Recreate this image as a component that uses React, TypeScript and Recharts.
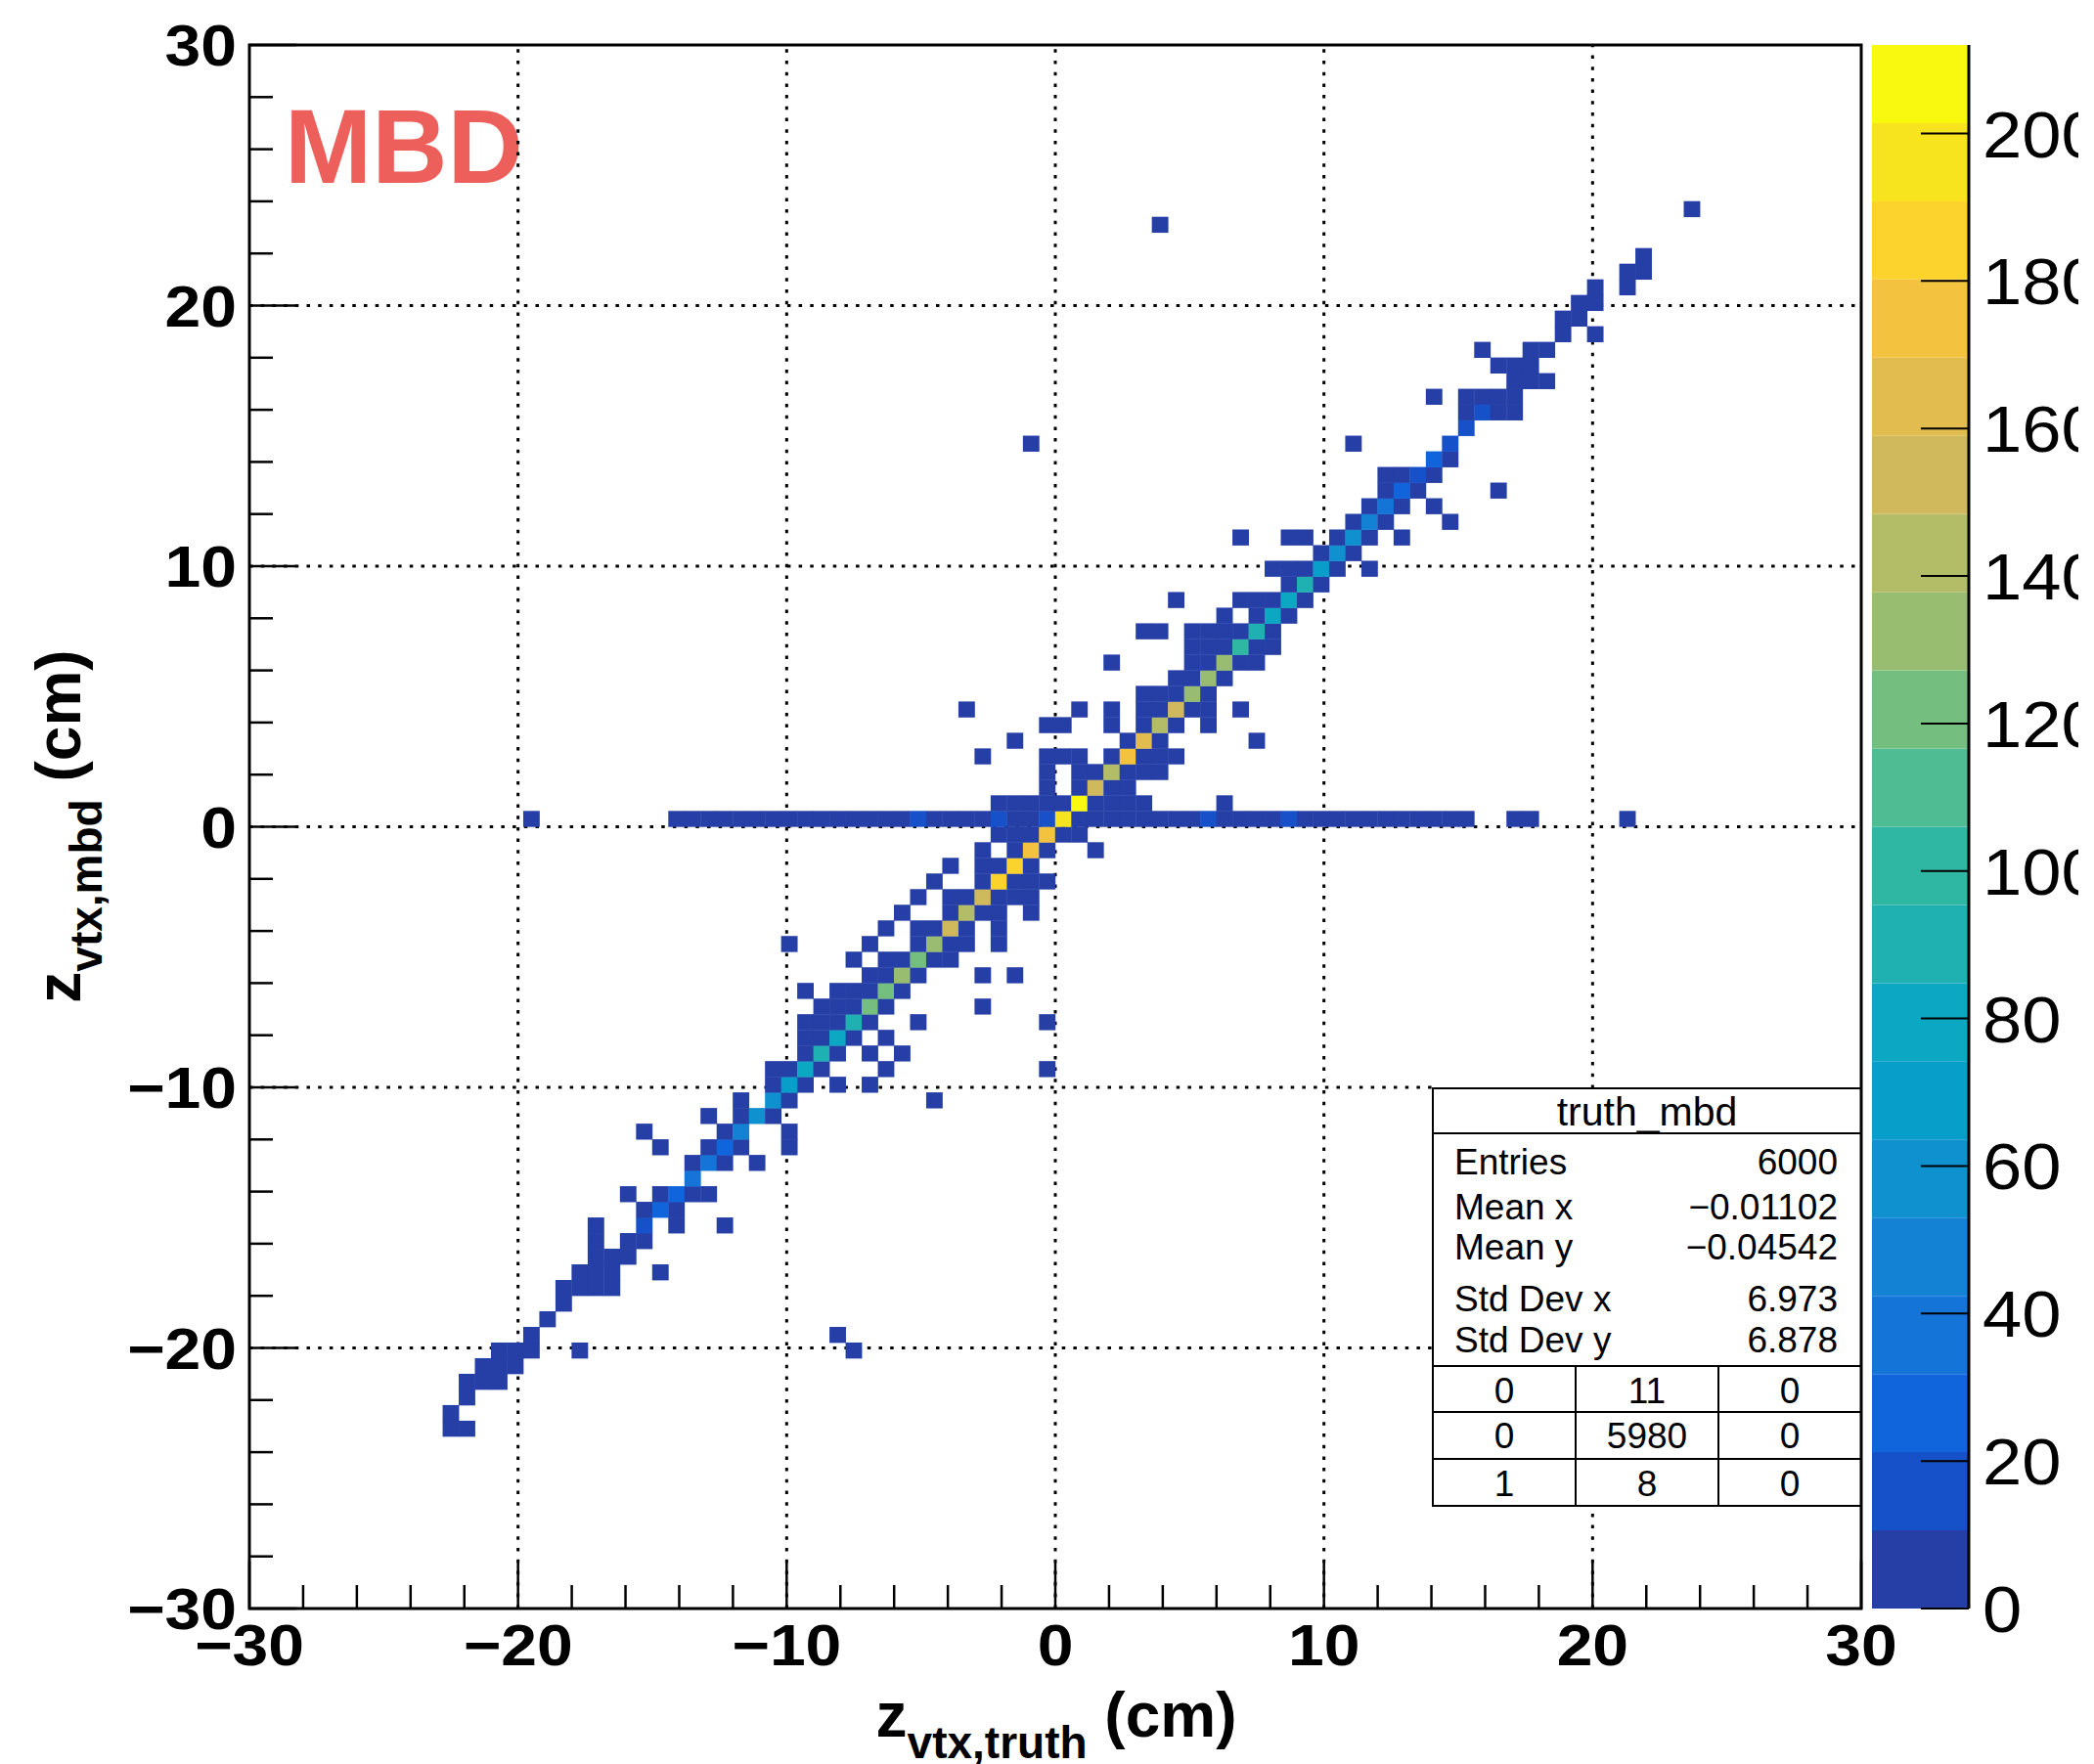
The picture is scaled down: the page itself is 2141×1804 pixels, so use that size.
import React from 'react';
import {
  ScatterChart,
  Scatter,
  XAxis,
  YAxis,
  ReferenceLine,
  ReferenceArea,
  Customized,
  BarChart,
  Bar,
} from 'recharts';

// ---------------- data ----------------
const AXIS_MIN = -30;
const AXIS_MAX = 30;
const BIN_WIDTH = 0.6; // 100 x 100 bins
const Z_MAX = 212;
const N_CONTOURS = 20;

const AXIS_TICKS = [-30, -28, -26, -24, -22, -20, -18, -16, -14, -12, -10, -8, -6, -4, -2, 0, 2, 4, 6, 8, 10, 12, 14, 16, 18, 20, 22, 24, 26, 28, 30];
const GRID_VALUES = [-20, -10, 0, 10, 20];
const Z_TICKS = [0, 20, 40, 60, 80, 100, 120, 140, 160, 180, 200];

// ROOT-like palette, 20 contour colours from low to high
const PALETTE = [
  '#253fa6', '#1651c9', '#1065dc', '#1474d8', '#1482d4',
  '#0f91d0', '#079ec9', '#0ca7c2', '#1fb0b2', '#2fb7a4',
  '#50bc94', '#74be80', '#98bd70', '#b3bc66', '#d0b85c',
  '#e2bc4e', '#f3c33f', '#fcd22c', '#f8e41e', '#f9f80f',
];

// cells: [xBin, yBin, entries]
const cellsLowerTail = [
  [12, 11, 3], [13, 11, 2],
  [12, 12, 3],
  [13, 13, 4],
  [13, 14, 3], [14, 14, 5], [15, 14, 2],
  [14, 15, 4], [15, 15, 6], [16, 15, 3],
  [15, 16, 2], [16, 16, 5], [17, 16, 4], [20, 16, 1], [37, 16, 1],
  [17, 17, 5], [36, 17, 1],
  [18, 18, 6],
  [19, 19, 6],
  [19, 20, 3], [20, 20, 7], [21, 20, 5], [22, 20, 2],
  [20, 21, 2], [21, 21, 6], [22, 21, 4], [25, 21, 1],
  [21, 22, 3], [22, 22, 7], [23, 22, 4],
  [21, 23, 1], [23, 23, 3], [24, 23, 6],
  [21, 24, 1], [24, 24, 16], [26, 24, 2], [29, 24, 1],
  [24, 25, 4], [25, 25, 28], [26, 25, 3],
  [23, 26, 1], [25, 26, 3], [26, 26, 30], [27, 26, 5], [28, 26, 2],
  [27, 27, 38],
  [27, 28, 6], [28, 28, 40], [29, 28, 4], [31, 28, 1],
  [25, 29, 1], [28, 29, 3], [29, 29, 27], [30, 29, 8], [33, 29, 1],
  [24, 30, 1], [29, 30, 4], [30, 30, 48], [33, 30, 1],
  [28, 31, 1], [30, 31, 3], [31, 31, 58], [32, 31, 7],
  [30, 32, 2], [32, 32, 60], [33, 32, 6], [42, 32, 1],
];

const cellsLowerCore = [
  [32, 33, 6], [33, 33, 68], [34, 33, 8], [36, 33, 1], [38, 33, 1],
  [32, 34, 2], [33, 34, 5], [34, 34, 78], [35, 34, 7], [39, 34, 1], [49, 34, 1],
  [34, 35, 4], [35, 35, 88], [36, 35, 9], [38, 35, 2], [40, 35, 1],
  [34, 36, 3], [35, 36, 6], [36, 36, 80], [37, 36, 8], [39, 36, 2],
  [34, 37, 2], [35, 37, 4], [36, 37, 5], [37, 37, 90], [38, 37, 9], [41, 37, 1], [49, 37, 1],
  [35, 38, 2], [36, 38, 4], [37, 38, 7], [38, 38, 118], [39, 38, 9], [45, 38, 1],
  [34, 39, 1], [36, 39, 2], [37, 39, 5], [38, 39, 8], [39, 39, 120], [40, 39, 8],
  [38, 40, 4], [39, 40, 7], [40, 40, 130], [41, 40, 9], [45, 40, 1], [47, 40, 1],
  [37, 41, 1], [39, 41, 3], [40, 41, 6], [41, 41, 121], [42, 41, 8], [43, 41, 3],
  [33, 42, 1], [38, 42, 1], [41, 42, 4], [42, 42, 132], [43, 42, 9], [44, 42, 4], [46, 42, 2],
  [39, 43, 1], [41, 43, 2], [42, 43, 6], [43, 43, 150], [44, 43, 9], [46, 43, 2],
  [40, 44, 1], [43, 44, 5], [44, 44, 142], [45, 44, 8], [46, 44, 4], [48, 44, 2],
  [41, 45, 1], [43, 45, 2], [44, 45, 6], [45, 45, 153], [46, 45, 9], [47, 45, 5], [48, 45, 3],
  [42, 46, 1], [45, 46, 5], [46, 46, 184], [47, 46, 9], [48, 46, 6], [49, 46, 3],
  [43, 47, 1], [45, 47, 2], [46, 47, 6], [47, 47, 186], [48, 47, 9],
  [45, 48, 2], [47, 48, 7], [48, 48, 175], [49, 48, 8], [52, 48, 1],
  [46, 49, 3], [47, 49, 5], [48, 49, 8], [49, 49, 176], [50, 49, 9], [51, 49, 4],
];

const cellsZeroRow = [
  [17, 50, 1], [26, 50, 3], [27, 50, 4], [28, 50, 3], [29, 50, 5], [30, 50, 4],
  [31, 50, 5], [32, 50, 6], [33, 50, 4], [34, 50, 5], [35, 50, 6], [36, 50, 5],
  [37, 50, 7], [38, 50, 6], [39, 50, 8], [40, 50, 7], [41, 50, 15], [42, 50, 8],
  [43, 50, 9], [44, 50, 7], [45, 50, 9], [46, 50, 16], [47, 50, 9], [48, 50, 10],
  [49, 50, 17], [50, 50, 196], [51, 50, 10], [52, 50, 9], [53, 50, 8], [54, 50, 9],
  [55, 50, 7], [56, 50, 8], [57, 50, 6], [58, 50, 8], [59, 50, 14], [60, 50, 7],
  [61, 50, 6], [62, 50, 5], [63, 50, 7], [64, 50, 13], [65, 50, 6], [66, 50, 5],
  [67, 50, 4], [68, 50, 5], [69, 50, 4], [70, 50, 3], [71, 50, 4], [72, 50, 3],
  [73, 50, 2], [74, 50, 3], [75, 50, 2], [78, 50, 1], [79, 50, 1], [85, 50, 1],
];

const cellsUpperCore = [
  [46, 51, 4], [47, 51, 6], [48, 51, 7], [49, 51, 9], [50, 51, 8], [51, 51, 210], [52, 51, 9], [53, 51, 6], [54, 51, 4], [55, 51, 2], [60, 51, 1],
  [49, 52, 3], [51, 52, 5], [52, 52, 153], [53, 52, 8], [54, 52, 5],
  [49, 53, 2], [51, 53, 4], [52, 53, 7], [53, 53, 142], [54, 53, 9], [55, 53, 5], [56, 53, 2],
  [45, 54, 1], [49, 54, 2], [50, 54, 4], [51, 54, 3], [53, 54, 6], [54, 54, 175], [55, 54, 9], [56, 54, 6], [57, 54, 3],
  [47, 55, 1], [54, 55, 7], [55, 55, 165], [56, 55, 8], [62, 55, 1],
  [49, 56, 2], [50, 56, 3], [53, 56, 2], [55, 56, 5], [56, 56, 143], [57, 56, 8], [59, 56, 3],
  [44, 57, 1], [51, 57, 1], [53, 57, 2], [55, 57, 3], [56, 57, 6], [57, 57, 152], [58, 57, 8], [59, 57, 4], [61, 57, 1],
  [55, 58, 3], [56, 58, 4], [57, 58, 7], [58, 58, 132], [59, 58, 8],
  [57, 59, 4], [58, 59, 7], [59, 59, 130], [60, 59, 7],
  [53, 60, 1], [58, 60, 3], [59, 60, 6], [60, 60, 128], [61, 60, 8], [62, 60, 4],
  [58, 61, 2], [59, 61, 4], [60, 61, 7], [61, 61, 100], [62, 61, 9], [63, 61, 5],
  [55, 62, 1], [56, 62, 1], [58, 62, 2], [59, 62, 3], [60, 62, 5], [61, 62, 8], [62, 62, 90], [63, 62, 7],
  [60, 63, 2], [62, 63, 5], [63, 63, 80], [64, 63, 6],
  [57, 64, 1], [61, 64, 2], [62, 64, 4], [63, 64, 7], [64, 64, 78], [65, 64, 6],
  [64, 65, 6], [65, 65, 90], [66, 65, 5],
  [63, 66, 2], [64, 66, 4], [65, 66, 7], [66, 66, 70], [67, 66, 8], [69, 66, 1],
  [66, 67, 6], [67, 67, 60], [68, 67, 7],
  [61, 68, 1], [64, 68, 2], [65, 68, 3], [67, 68, 5], [68, 68, 58], [69, 68, 6], [71, 68, 1],
];

const cellsUpperTail = [
  [68, 69, 4], [69, 69, 45], [70, 69, 6], [74, 69, 1],
  [69, 70, 5], [70, 70, 38], [71, 70, 5], [73, 70, 1],
  [70, 71, 3], [71, 71, 28], [72, 71, 6], [77, 71, 1],
  [70, 72, 2], [71, 72, 4], [72, 72, 18], [73, 72, 5],
  [73, 73, 27], [74, 73, 6],
  [48, 74, 1], [68, 74, 1], [74, 74, 17],
  [75, 75, 17],
  [75, 76, 5], [76, 76, 17], [77, 76, 4], [78, 76, 2],
  [73, 77, 1], [75, 77, 3], [76, 77, 5], [77, 77, 6], [78, 77, 4],
  [78, 78, 4], [79, 78, 6], [80, 78, 3],
  [77, 79, 3], [78, 79, 5], [79, 79, 4],
  [76, 80, 1], [79, 80, 3], [80, 80, 4],
  [81, 81, 5], [83, 81, 1],
  [81, 82, 4], [82, 82, 5],
  [82, 83, 3], [83, 83, 5],
  [83, 84, 4], [85, 84, 2],
  [85, 85, 3], [86, 85, 4],
  [86, 86, 3],
  [56, 88, 1],
  [89, 89, 1],
];

const STAT_TITLE = 'truth_mbd';
const STAT_NAMES = ['Entries', 'Mean x', 'Mean y', 'Std Dev x', 'Std Dev y'];
const STAT_VALUES = ['6000', '\u22120.01102', '\u22120.04542', '6.973', '6.878'];
const OVERFLOW_TABLE = [
  [0, 11, 0],
  [0, 5980, 0],
  [1, 8, 0],
];

// ---------------- layout ----------------
const PAGE_W = 2141;
const PAGE_H = 1804;
const PLOT_L = 255;
const PLOT_T = 46;
const PLOT_R = 1903;
const PLOT_B = 1645;
const PLOT_W = PLOT_R - PLOT_L;
const PLOT_H = PLOT_B - PLOT_T;
const CELL_W = (PLOT_W * BIN_WIDTH) / (AXIS_MAX - AXIS_MIN);
const CELL_H = (PLOT_H * BIN_WIDTH) / (AXIS_MAX - AXIS_MIN);
const CBAR_L = 1914;
const CBAR_R = 2013;
const CANVAS_R = 2125; // the drawing is cut here, as in the reference

// stats box (pixels)
const BOX_L = 1465;
const BOX_R = 1903;
const BOX_T = 1113;
const BOX_B = 1540;
// stats box edges in data units (grid lines stop at the box)
const BOX_X0 = AXIS_MIN + ((BOX_L - PLOT_L) / PLOT_W) * (AXIS_MAX - AXIS_MIN);
const BOX_Y0 = AXIS_MIN + ((PLOT_B - BOX_B) / PLOT_H) * (AXIS_MAX - AXIS_MIN);
const BOX_Y1 = AXIS_MIN + ((PLOT_B - BOX_T) / PLOT_H) * (AXIS_MAX - AXIS_MIN);

const FONT = "'Liberation Sans', Arial, Helvetica, sans-serif";

const colorFor = (n: number) => {
  const k = Math.min(N_CONTOURS - 1, Math.floor(n / (Z_MAX / N_CONTOURS)));
  return PALETTE[k];
};

const toPoints = (cells: number[][]) =>
  cells.map(([i, j, n]) => ({
    x: AXIS_MIN + BIN_WIDTH * (i + 0.5),
    y: AXIS_MIN + BIN_WIDTH * (j + 0.5),
    n,
  }));

const ALL_POINTS = [
  ...toPoints(cellsLowerTail),
  ...toPoints(cellsLowerCore),
  ...toPoints(cellsZeroRow),
  ...toPoints(cellsUpperCore),
  ...toPoints(cellsUpperTail),
];

const colorBarRow: Record<string, number | string> = { name: 'z' };
PALETTE.forEach((_, k) => {
  colorBarRow[`b${k}`] = Z_MAX / N_CONTOURS;
});

const fmt = (v: number) => (v < 0 ? `\u2212${-v}` : `${v}`);

// grid segments, stopping at the stats box
const gridSegments: { key: string; seg: { x: number; y: number }[] }[] = [];
GRID_VALUES.forEach((g) => {
  // vertical line x = g
  if (g > BOX_X0) {
    gridSegments.push({ key: `vx${g}a`, seg: [{ x: g, y: AXIS_MIN }, { x: g, y: BOX_Y0 }] });
    gridSegments.push({ key: `vx${g}b`, seg: [{ x: g, y: BOX_Y1 }, { x: g, y: AXIS_MAX }] });
  } else {
    gridSegments.push({ key: `vx${g}`, seg: [{ x: g, y: AXIS_MIN }, { x: g, y: AXIS_MAX }] });
  }
  // horizontal line y = g
  if (g >= BOX_Y0 && g <= BOX_Y1 + 0.1) {
    gridSegments.push({ key: `hy${g}`, seg: [{ x: AXIS_MIN, y: g }, { x: BOX_X0, y: g }] });
  } else {
    gridSegments.push({ key: `hy${g}`, seg: [{ x: AXIS_MIN, y: g }, { x: AXIS_MAX, y: g }] });
  }
});

// ---------------- components ----------------
const BinCell = (props: any) => {
  const { cx, cy, payload } = props;
  if (cx == null || cy == null) return null;
  return (
    <rect
      x={cx - CELL_W / 2 - 0.2}
      y={cy - CELL_H / 2 - 0.2}
      width={CELL_W + 0.4}
      height={CELL_H + 0.4}
      fill={colorFor(payload.n)}
    />
  );
};

const XTick = (props: any) => {
  const { x, y, payload } = props;
  const v = payload.value;
  const major = v % 10 === 0;
  return (
    <g>
      <line x1={x} x2={x} y1={y} y2={y - (major ? 48 : 24)} stroke="#000" strokeWidth={2.5} />
      {major && (
        <text
          transform={`translate(${x} ${y + 58}) scale(1.1 1)`}
          textAnchor="middle"
          fontFamily={FONT}
          fontWeight="bold"
          fontSize={60}
          fill="#000"
        >
          {fmt(v)}
        </text>
      )}
    </g>
  );
};

const YTick = (props: any) => {
  const { x, y, payload } = props;
  const v = payload.value;
  const major = v % 10 === 0;
  return (
    <g>
      <line x1={x} x2={x + (major ? 48 : 24)} y1={y} y2={y} stroke="#000" strokeWidth={2.5} />
      {major && (
        <text
          transform={`translate(${x - 13} ${y + 21}) scale(1.1 1)`}
          textAnchor="end"
          fontFamily={FONT}
          fontWeight="bold"
          fontSize={60}
          fill="#000"
        >
          {fmt(v)}
        </text>
      )}
    </g>
  );
};

const ZTick = (props: any) => {
  const { x, y, payload } = props;
  return (
    <g>
      <line x1={x - 49} x2={x} y1={y} y2={y} stroke="#000" strokeWidth={2} />
      <text
        transform={`translate(${x + 14} ${y + 24}) scale(1.08 1)`}
        textAnchor="start"
        fontFamily={FONT}
        fontSize={67}
        fill="#000"
      >
        {payload.value}
      </text>
    </g>
  );
};

const Overlay = () => {
  const titleSep = 1159;
  const statsBottom = 1397;
  const rowLines = [1444, 1492];
  const colLines = [1611, 1757];
  const statBaselines = [1201, 1247, 1288, 1341, 1383];
  const tableBaselines = [1435, 1481, 1530];
  const colCenters = [1538, 1684, 1830];
  const ls = { stroke: '#000', strokeWidth: 2 };
  return (
    <g fontFamily={FONT}>
      <text x={291} y={187} fontSize={107} fontWeight="bold" fill="#EC5F5B">
        MBD
      </text>
      {/* x title */}
      <text x={1080} y={1776} textAnchor="middle" fontSize={64} fontWeight="bold" fill="#000" style={{ whiteSpace: 'pre' }}>
        <tspan>z</tspan>
        <tspan fontSize={46} dy={22}>vtx,truth</tspan>
        <tspan dy={-22}>{' (cm)'}</tspan>
      </text>
      {/* y title */}
      <text
        transform="translate(82 845) rotate(-90)"
        textAnchor="middle"
        fontSize={64}
        fontWeight="bold"
        fill="#000"
        style={{ whiteSpace: 'pre' }}
      >
        <tspan>z</tspan>
        <tspan fontSize={46} dy={22}>vtx,mbd</tspan>
        <tspan dy={-22}>{' (cm)'}</tspan>
      </text>
      {/* stats box */}
      <rect x={BOX_L} y={BOX_T} width={BOX_R - BOX_L} height={BOX_B - BOX_T} fill="#fff" {...ls} />
      <line x1={BOX_L} x2={BOX_R} y1={titleSep} y2={titleSep} {...ls} />
      <line x1={BOX_L} x2={BOX_R} y1={statsBottom} y2={statsBottom} {...ls} />
      {rowLines.map((ry) => (
        <line key={ry} x1={BOX_L} x2={BOX_R} y1={ry} y2={ry} {...ls} />
      ))}
      {colLines.map((cx) => (
        <line key={cx} x1={cx} x2={cx} y1={statsBottom} y2={BOX_B} {...ls} />
      ))}
      <text x={(BOX_L + BOX_R) / 2} y={1151} textAnchor="middle" fontSize={41} fill="#000">
        {STAT_TITLE}
      </text>
      {STAT_NAMES.map((name, k) => (
        <g key={name}>
          <text x={1487} y={statBaselines[k]} fontSize={37} fill="#000">
            {name}
          </text>
          <text x={1879} y={statBaselines[k]} textAnchor="end" fontSize={37} fill="#000">
            {STAT_VALUES[k]}
          </text>
        </g>
      ))}
      {OVERFLOW_TABLE.map((row, r) =>
        row.map((val, c) => (
          <text key={`${r}-${c}`} x={colCenters[c]} y={tableBaselines[r]} textAnchor="middle" fontSize={37} fill="#000">
            {val}
          </text>
        ))
      )}
    </g>
  );
};

export default function App() {
  return (
    <div
      style={{
        position: 'absolute',
        left: 0,
        top: 0,
        width: PAGE_W,
        height: PAGE_H,
        overflow: 'hidden',
        background: '#fff',
      }}
    >
      <ScatterChart
        width={PAGE_W}
        height={PAGE_H}
        margin={{ top: PLOT_T, right: PAGE_W - PLOT_R, bottom: 0, left: 0 }}
      >
        <XAxis
          type="number"
          dataKey="x"
          domain={[AXIS_MIN, AXIS_MAX]}
          ticks={AXIS_TICKS}
          interval={0}
          height={PAGE_H - PLOT_B}
          tickSize={0}
          tickMargin={0}
          axisLine={false}
          tickLine={false}
          tick={<XTick />}
          allowDataOverflow
        />
        <YAxis
          type="number"
          dataKey="y"
          domain={[AXIS_MIN, AXIS_MAX]}
          ticks={AXIS_TICKS}
          interval={0}
          width={PLOT_L}
          tickSize={0}
          tickMargin={0}
          axisLine={false}
          tickLine={false}
          tick={<YTick />}
          allowDataOverflow
        />
        <Scatter data={ALL_POINTS} shape={BinCell} isAnimationActive={false} />
        {gridSegments.map((g) => (
          <ReferenceLine
            key={g.key}
            segment={g.seg}
            stroke="#000"
            strokeWidth={3}
            strokeDasharray="3.5 8.2"
            ifOverflow="visible"
          />
        ))}
        <ReferenceArea
          x1={AXIS_MIN}
          x2={AXIS_MAX}
          y1={AXIS_MIN}
          y2={AXIS_MAX}
          fill="none"
          fillOpacity={0}
          stroke="#000"
          strokeWidth={3}
        />
        <Customized component={<Overlay />} />
      </ScatterChart>
      <div style={{ position: 'absolute', left: CBAR_L, top: 0, width: CANVAS_R - CBAR_L, height: PAGE_H, overflow: 'hidden' }}>
        <BarChart
          width={PAGE_W - CBAR_L}
          height={PAGE_H}
          data={[colorBarRow]}
          margin={{ top: PLOT_T, right: 0, bottom: PAGE_H - PLOT_B, left: 0 }}
          barCategoryGap={0}
          barGap={0}
        >
          <XAxis dataKey="name" hide />
          <YAxis
            orientation="right"
            type="number"
            domain={[0, Z_MAX]}
            ticks={Z_TICKS}
            interval={0}
            width={PAGE_W - CBAR_R}
            tickSize={0}
            tickMargin={0}
            axisLine={{ stroke: '#000', strokeWidth: 3 }}
            tickLine={false}
            tick={<ZTick />}
            allowDataOverflow
          />
          {PALETTE.map((c, k) => (
            <Bar key={k} dataKey={`b${k}`} stackId="z" fill={c} isAnimationActive={false} />
          ))}
        </BarChart>
      </div>
    </div>
  );
}
